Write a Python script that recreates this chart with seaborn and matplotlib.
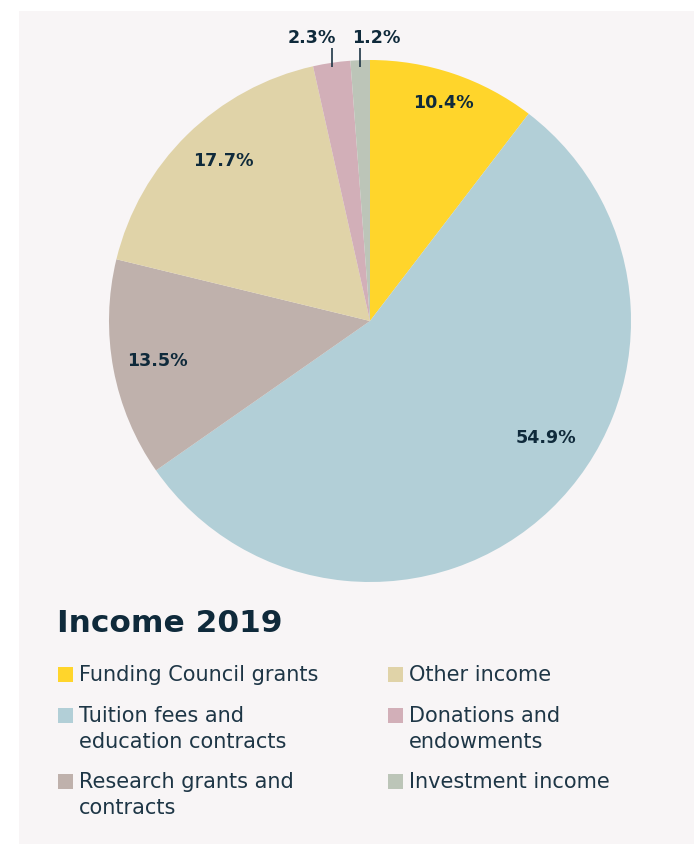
import numpy as np
import matplotlib
matplotlib.use("Agg")
import matplotlib.pyplot as plt
from matplotlib.patches import Rectangle
import seaborn as sns

# Income breakdown, 2019 (share of total, %)
categories = [
    "Funding Council grants",
    "Tuition fees and\neducation contracts",
    "Research grants and\ncontracts",
    "Other income",
    "Donations and\nendowments",
    "Investment income",
]
shares = [10.4, 54.9, 13.5, 17.7, 2.3, 1.2]
colors = ["#FFD52B", "#B2CFD7", "#BFB1AC", "#E0D3A8", "#D2AFB8", "#BCC5B8"]
title = "Income 2019"

sns.set_theme(style="white")
plt.rcParams["font.family"] = ["DejaVu Sans"]

W, H = 694, 844
DARK = "#0F2A3B"
TEXT = "#1E3646"
PANEL = "#F8F5F6"

fig = plt.figure(figsize=(W / 100, H / 100), dpi=100)
fig.patch.set_facecolor("white")


def fx(x):
    return x / W


def fy(y):
    return 1 - y / H


# background panel
fig.add_artist(Rectangle((fx(19), 0), 1, fy(11), transform=fig.transFigure,
                         facecolor=PANEL, edgecolor="none", zorder=-10))

# pie axes: centre (370, 321) px, radius 261 px, limits +-1.2
cx, cy, r = 370, 321, 261
half = 1.2 * r
ax = fig.add_axes([fx(cx - half), fy(cy + half), 2 * half / W, 2 * half / H])
ax.set_zorder(1)
ax.patch.set_alpha(0)
ax.set_aspect("equal")
ax.axis("off")

wedges, _ = ax.pie(shares, colors=colors, startangle=90, counterclock=False,
                   radius=1.0, wedgeprops=dict(linewidth=0))
ax.set_xlim(-1.2, 1.2)
ax.set_ylim(-1.2, 1.2)

# inside labels: radial distance and angular nudge per slice
label_radius = [0.88, 0.81, 0.83, 0.83]
label_shift = [0.0, 12.5, 0.0, -2.0]
for w, val, rr, sh in zip(wedges[:4], shares[:4], label_radius, label_shift):
    mid = np.deg2rad((w.theta1 + w.theta2) / 2 + sh)
    ax.text(rr * np.cos(mid), rr * np.sin(mid), f"{val}%", ha="center", va="center",
            fontsize=12.6, fontweight="bold", color=DARK)

# outside labels with short leader lines
outside_offset = [-0.077, 0.061]
for w, val, off in zip(wedges[4:], shares[4:], outside_offset):
    mid = np.deg2rad((w.theta1 + w.theta2) / 2)
    x0 = np.cos(mid)
    ax.plot([x0, x0], [0.973, 1.046], color=TEXT, lw=1.2, solid_capstyle="butt")
    ax.text(x0 + off, 1.086, f"{val}%", ha="center", va="center",
            fontsize=12.6, fontweight="bold", color=DARK)

# title
fig.text(fx(57), fy(632), title, ha="left", va="baseline", fontsize=22.5,
         fontweight="bold", color=DARK)

# legend, two columns
col_x = [58, 388]
row_y = [[674, 715, 781], [674, 715, 781]]
sq = 15
line_gap = 26
for i, (cat, col) in enumerate(zip(categories, colors)):
    c, rrow = divmod(i, 3)
    x = col_x[c]
    y = row_y[c][rrow]
    fig.add_artist(Rectangle((fx(x), fy(y + sq / 2)), sq / W, sq / H,
                             transform=fig.transFigure, facecolor=col,
                             edgecolor="none", zorder=2))
    for k, line in enumerate(cat.split("\n")):
        fig.text(fx(x + 21), fy(y + 7 + k * line_gap), line, ha="left",
                 va="baseline", fontsize=15, color=TEXT)

fig.savefig("out.png", dpi=100, facecolor=fig.get_facecolor())
